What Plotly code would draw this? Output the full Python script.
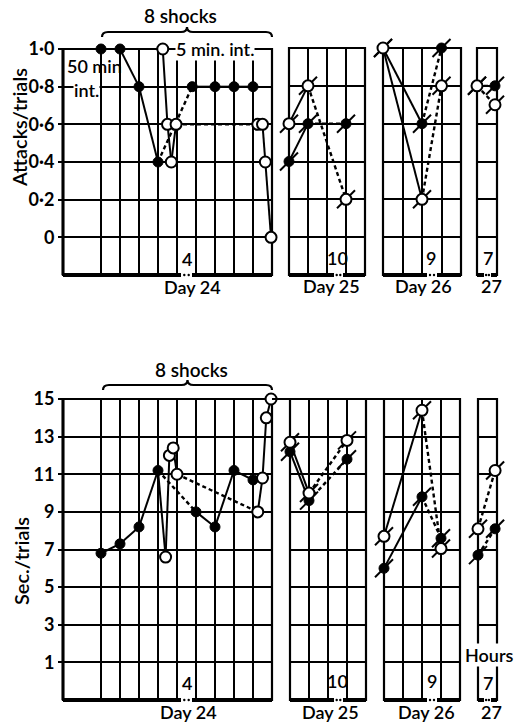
import plotly.graph_objects as go

W, H = 515, 723
FONT = "Lato"

# ---------------- data ----------------
att_tickvals = [0, 0.2, 0.4, 0.6, 0.8, 1.0]
att_ticktext = ["0", "0·2", "0·4", "0·6", "0·8", "1·0"]
sec_tickvals = [1, 3, 5, 7, 9, 11, 13, 15]
sec_ticktext = ["1", "3", "5", "7", "9", "11", "13", "15"]

# Day 24 (x in trial-column units)
att24_fill_x = [2, 3, 4, 5, 6.8, 8, 9, 10]
att24_fill_y = [1.0, 1.0, 0.8, 0.4, 0.8, 0.8, 0.8, 0.8]
att24_open_x = [5.25, 5.5, 5.7, 5.95, 10.25, 10.5, 10.65, 10.95]
att24_open_y = [1.0, 0.6, 0.4, 0.6, 0.6, 0.6, 0.4, 0.0]

sec24_fill_x = [2, 3, 4, 5, 7, 8, 9, 10]
sec24_fill_y = [6.8, 7.3, 8.2, 11.2, 9.0, 8.2, 11.2, 10.7]
sec24_open_x = [5.4, 5.6, 5.8, 6.0, 10.25, 10.5, 10.7, 10.95]
sec24_open_y = [6.6, 12.0, 12.4, 11.0, 9.0, 10.8, 14.0, 15.0]

# Day 25
att25_x = [0, 1, 3]
att25_open_y = [0.6, 0.8, 0.2]
att25_fill_y = [0.4, 0.6, 0.6]
sec25_x = [0, 1, 3]
sec25_open_y = [12.7, 10.0, 12.8]
sec25_fill_y = [12.2, 9.6, 11.8]

# Day 26
att26_x = [0, 2, 3]
att26_open_y = [1.0, 0.2, 0.8]
att26_fill_y = [1.0, 0.6, 1.0]
sec26_x = [0, 2, 3]
sec26_open_y = [7.7, 14.4, 7.05]
sec26_fill_y = [6.0, 9.8, 7.6]

# Day 27
att27_x = [0, 0.9]
att27_open_y = [0.8, 0.7]
att27_fill_y = [0.8, 0.8]
sec27_x = [0, 0.9]
sec27_open_y = [8.1, 11.2]
sec27_fill_y = [6.7, 8.1]

# ---------------- layout helpers ----------------
def fx(p):
    return p / W

def fy(p):
    return 1 - p / H

panels = {
    1: ((63, 272), (49, 275), [0, 11], [2, 3, 4, 5, 6, 7, 8, 9, 10], [-0.2, 1.0], "att", True),
    2: ((289, 365), (48, 275), [0, 4], [1, 2, 3], [-0.2, 1.0], "att", False),
    3: ((383, 461), (48, 275), [0, 4], [1, 2, 3], [-0.2, 1.0], "att", False),
    4: ((477, 497), (48, 275), [0, 1], [], [-0.2, 1.0], "att", False),
    5: ((63, 272), (399, 700), [0, 11], [2, 3, 4, 5, 6, 7, 8, 9, 10], [-1, 15], "sec", True),
    6: ((290, 366), (399, 700), [0, 4], [1, 2, 3], [-1, 15], "sec", False),
    7: ((384, 460), (399, 700), [0, 4], [1, 2, 3], [-1, 15], "sec", False),
    8: ((478, 497), (399, 700), [0, 1], [], [-1, 15], "sec", False),
}

fig = go.Figure()
layout = dict(
    width=W, height=H,
    margin=dict(l=0, r=0, t=0, b=0, pad=0, autoexpand=False),
    paper_bgcolor="white", plot_bgcolor="white",
    showlegend=False,
    font=dict(family=FONT, size=18, color="black"),
)
shapes = []

for k, (xd, yd, xr, xg, yr, kind, labels) in panels.items():
    xa = "xaxis" if k == 1 else f"xaxis{k}"
    ya = "yaxis" if k == 1 else f"yaxis{k}"
    layout[xa] = dict(
        domain=[fx(xd[0]), fx(xd[1])], range=xr, anchor=("y" if k == 1 else f"y{k}"),
        tickmode="array", tickvals=xg, showticklabels=False, ticks="",
        showgrid=True, gridcolor="black", gridwidth=1.9, zeroline=False, showline=False,
        fixedrange=True, automargin=False,
    )
    tv = att_tickvals if kind == "att" else sec_tickvals
    tt = att_ticktext if kind == "att" else sec_ticktext
    layout[ya] = dict(
        domain=[fy(yd[1]), fy(yd[0])], range=yr, anchor=("x" if k == 1 else f"x{k}"),
        tickmode="array", tickvals=tv, ticktext=tt, showticklabels=labels,
        ticks="outside" if labels else "", ticklen=4, tickwidth=2, tickcolor="black",
        tickfont=dict(family=FONT, size=18, color="black", weight=700),
        showgrid=True, gridcolor="black", gridwidth=1.9, zeroline=False, showline=False,
        fixedrange=True, automargin=False,
    )
    xref = "x" if k == 1 else f"x{k}"
    yref = "y" if k == 1 else f"y{k}"
    shapes.append(dict(type="rect", xref=f"{xref} domain", yref=f"{yref} domain",
                       x0=0, x1=1, y0=0, y1=1, line=dict(color="black", width=2.2), layer="below"))
    shapes.append(dict(type="line", xref=f"{xref} domain", yref=f"{yref} domain",
                       x0=0, x1=1, y0=0, y1=0, line=dict(color="black", width=4), layer="below"))
    if labels:
        shapes.append(dict(type="line", xref=f"{xref} domain", yref=f"{yref} domain",
                           x0=0, x1=0, y0=0, y1=1, line=dict(color="black", width=3), layer="below"))

# continuous line at 15 across bottom panels (day 24 -> day 26)
shapes.append(dict(type="line", xref="paper", yref="paper", x0=fx(272), x1=fx(460),
                   y0=fy(399), y1=fy(399), line=dict(color="black", width=2)))

# breaks in the bottom axis lines, with dots
for ypx in (275, 700):
    for (g0, g1) in [(181, 192), (334, 343), (427, 437), (484, 491)]:
        shapes.append(dict(type="line", xref="paper", yref="paper", x0=fx(g0), x1=fx(g1),
                           y0=fy(ypx), y1=fy(ypx), line=dict(color="white", width=6)))
        for d in (g0 + (g1 - g0) * 0.3, g0 + (g1 - g0) * 0.7):
            shapes.append(dict(type="circle", xref="paper", yref="paper",
                               x0=fx(d - 1.2), x1=fx(d + 1.2), y0=fy(ypx + 1.2), y1=fy(ypx - 1.2),
                               fillcolor="black", line=dict(width=0)))

def brace(x0, x1, y, h, r=6):
    xm = (x0 + x1) / 2
    pts = [
        ("M", (x0, y + h)),
        ("Q", (x0, y), (x0 + r, y)),
        ("L", (xm - r, y)),
        ("Q", (xm, y), (xm, y - h)),
        ("Q", (xm, y), (xm + r, y)),
        ("L", (x1 - r, y)),
        ("Q", (x1, y), (x1, y + h)),
    ]
    s = ""
    for p in pts:
        coords = " ".join(f"{fx(a):.5f},{fy(b):.5f}" for a, b in p[1:])
        s += f"{p[0]}{coords} "
    return s.strip()

shapes.append(dict(type="path", xref="paper", yref="paper", path=brace(102, 272, 32, 5),
                   line=dict(color="black", width=2.2)))
shapes.append(dict(type="path", xref="paper", yref="paper", path=brace(103, 272, 385, 5),
                   line=dict(color="black", width=2.2)))

layout["shapes"] = shapes


# ---------------- traces ----------------
def axes_for(k):
    return ("x" if k == 1 else f"x{k}"), ("y" if k == 1 else f"y{k}")


def add_series(k, xs, ys, styles, filled, slash=False):
    xa, ya = axes_for(k)
    for i, st in enumerate(styles):
        if st is None:
            continue
        fig.add_trace(go.Scatter(
            x=[xs[i], xs[i + 1]], y=[ys[i], ys[i + 1]], xaxis=xa, yaxis=ya,
            mode="lines", hoverinfo="skip", cliponaxis=False,
            line=dict(color="black", width=2.0 if st == "solid" else 2.4,
                      dash="solid" if st == "solid" else "4px,3px"),
        ))
    if slash:
        fig.add_trace(go.Scatter(
            x=xs, y=ys, xaxis=xa, yaxis=ya, mode="markers", hoverinfo="skip", cliponaxis=False,
            marker=dict(symbol="line-ne", size=18, line=dict(color="black", width=2)),
        ))
    if filled:
        marker = dict(symbol="circle", size=10, color="black", line=dict(color="black", width=1))
    else:
        marker = dict(symbol="circle", size=11, color="white", line=dict(color="black", width=2))
    fig.add_trace(go.Scatter(
        x=xs, y=ys, xaxis=xa, yaxis=ya, mode="markers", cliponaxis=False, marker=marker,
    ))


def connector(k, x0, y0, x1, y1):
    xa, ya = axes_for(k)
    fig.add_trace(go.Scatter(x=[x0, x1], y=[y0, y1], xaxis=xa, yaxis=ya, mode="lines",
                             hoverinfo="skip", cliponaxis=False,
                             line=dict(color="black", width=2.0)))


S, D = "solid", "dash"
seg24 = [S, S, S, D, S, S, S]

add_series(1, att24_fill_x, att24_fill_y, seg24, True)
add_series(1, att24_open_x, att24_open_y, seg24, False)
add_series(2, att25_x, att25_fill_y, [S, D], True, slash=True)
add_series(2, att25_x, att25_open_y, [S, D], False, slash=True)
add_series(3, att26_x, att26_fill_y, [S, D], True, slash=True)
add_series(3, att26_x, att26_open_y, [S, D], False, slash=True)
add_series(4, att27_x, att27_fill_y, [D], True, slash=True)
add_series(4, att27_x, att27_open_y, [D], False, slash=True)

connector(5, sec24_fill_x[3], sec24_fill_y[3], sec24_open_x[0], sec24_open_y[0])
add_series(5, sec24_fill_x, sec24_fill_y, seg24, True)
add_series(5, sec24_open_x, sec24_open_y, seg24, False)
add_series(6, sec25_x, sec25_fill_y, [S, D], True, slash=True)
add_series(6, sec25_x, sec25_open_y, [S, D], False, slash=True)
add_series(7, sec26_x, sec26_fill_y, [S, D], True, slash=True)
add_series(7, sec26_x, sec26_open_y, [S, D], False, slash=True)
add_series(8, sec27_x, sec27_fill_y, [D], True, slash=True)
add_series(8, sec27_x, sec27_open_y, [D], False, slash=True)

# ---------------- annotations ----------------
def txt(text, xpx, ypx, size=18, bg=None, angle=0, weight=600):
    a = dict(text=text, xref="paper", yref="paper", x=fx(xpx), y=fy(ypx),
             xanchor="center", yanchor="middle", showarrow=False, textangle=angle,
             font=dict(family=FONT, size=size, color="black", weight=weight))
    if bg:
        a["bgcolor"] = bg
        a["borderpad"] = 0
    return a

annotations = [
    txt("Attacks/trials", 19, 128, 20, angle=-90),
    txt("Sec./trials", 21, 561, 20, angle=-90),
    txt("8 shocks", 180, 15, 19),
    txt("8 shocks", 191, 370, 19),
    txt("50 min", 94, 66, 18),
    txt("int.", 86, 90, 18, bg="white"),
    txt("5 min. int.", 215, 49, 18, bg="white"),
    txt("4", 187, 259, 18), txt("10", 337, 258, 18), txt("9", 431, 258, 18), txt("7", 488, 258, 18),
    txt("4", 187, 683, 18), txt("10", 337, 681, 18), txt("9", 432, 681, 18), txt("7", 488, 683, 18),
    txt("Day 24", 192, 287, 18), txt("Day 25", 331, 286, 18), txt("Day 26", 423, 286, 18),
    txt("27", 491, 286, 18),
    txt("Day 24", 188, 712, 18), txt("Day 25", 330, 712, 18), txt("Day 26", 426, 712, 18),
    txt("27", 491, 712, 18),
    txt("Hours", 489, 655, 18, bg="white"),
]
layout["annotations"] = annotations

fig.update_layout(**layout)
fig.write_html("out.html", config={"displayModeBar": False},
               post_script="document.body.style.margin='0';document.body.style.overflow='hidden';")
